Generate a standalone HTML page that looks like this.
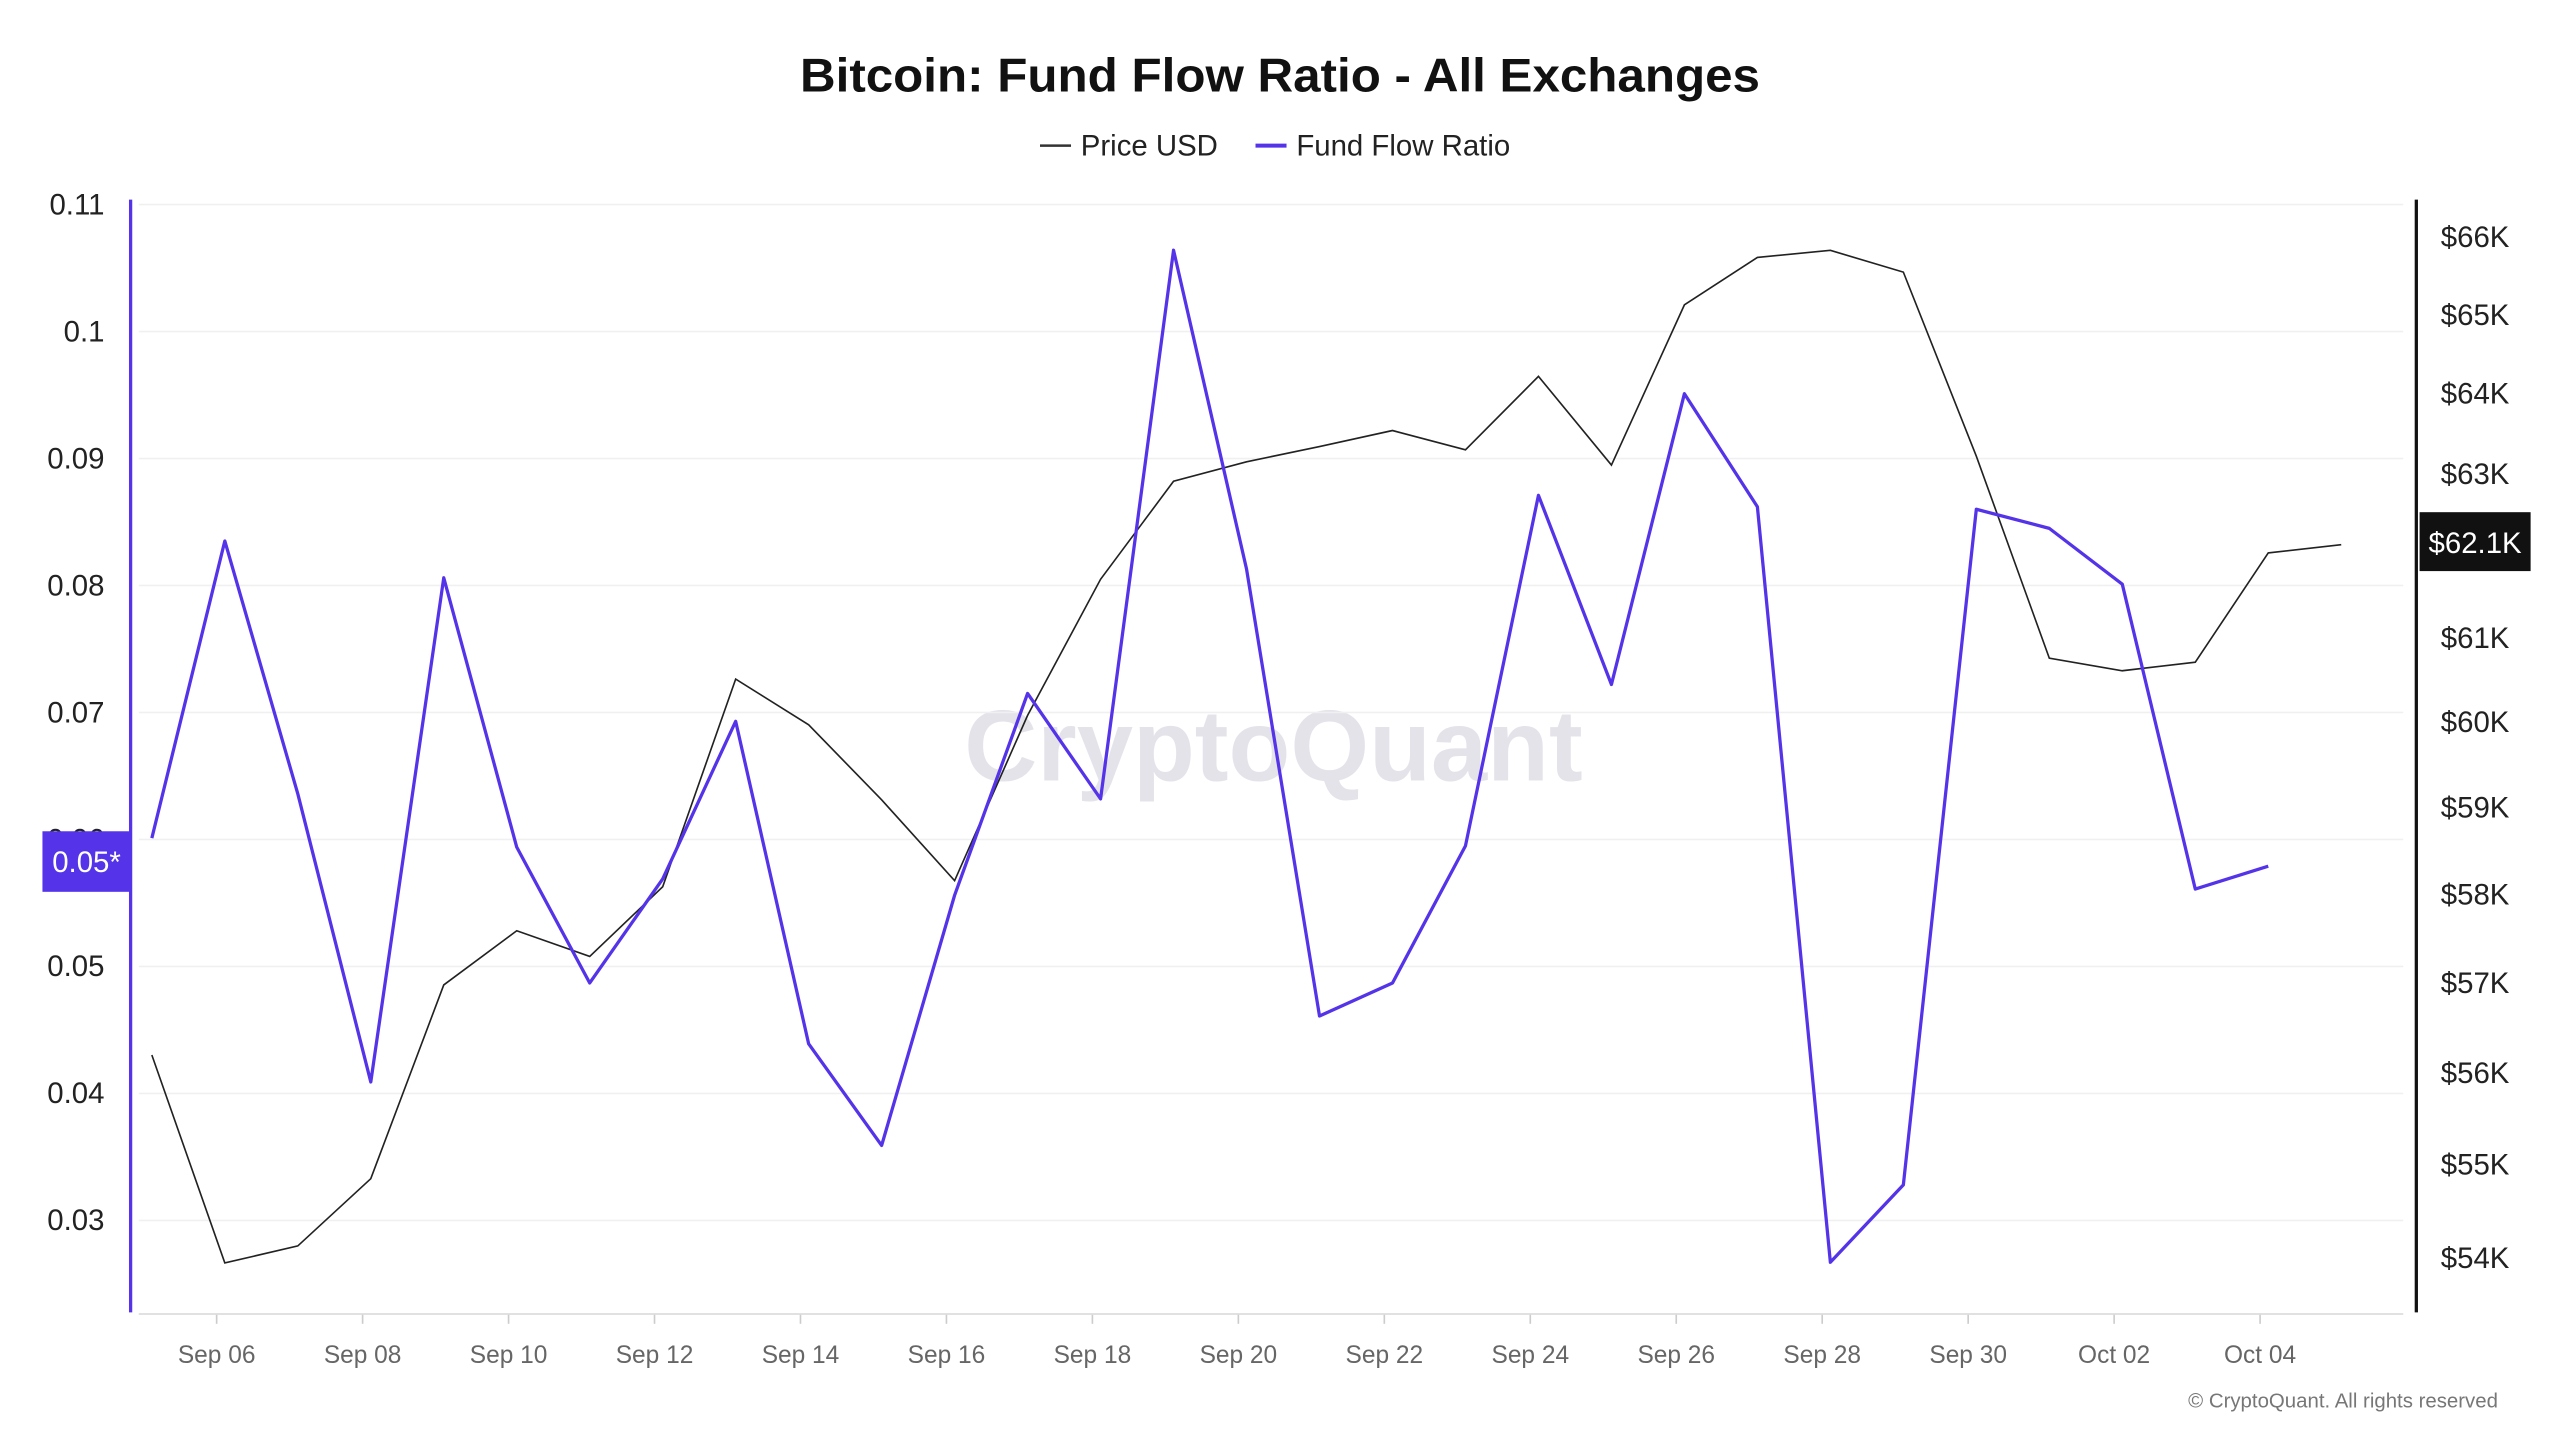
<!DOCTYPE html>
<html><head><meta charset="utf-8"><style>
html,body{margin:0;padding:0;background:#fff}
svg{display:block}
text{font-family:"Liberation Sans",sans-serif}
</style></head><body>
<svg id="chart" width="2560" height="1440" viewBox="0 0 1568 880" preserveAspectRatio="none" xmlns="http://www.w3.org/2000/svg">
<rect width="1568" height="880" fill="#fff"/>
<text x="784" y="56" text-anchor="middle" font-size="29" font-weight="bold" fill="#111" textLength="588" lengthAdjust="spacingAndGlyphs">Bitcoin: Fund Flow Ratio - All Exchanges</text>
<g>
<g><line x1="637" y1="89" x2="656" y2="89" stroke="#333" stroke-width="1.5"/><text x="662" y="95" font-size="18" fill="#222">Price USD</text></g>
<g><line x1="769" y1="89" x2="788" y2="89" stroke="#5433e8" stroke-width="2.5"/><text x="794" y="95" font-size="18" fill="#222">Fund Flow Ratio</text></g>
</g>
<text x="780" y="477" text-anchor="middle" font-size="62" font-weight="bold" fill="#e4e3ea">CryptoQuant</text>
<g id="grid"></g><g id="axes"></g><g id="series"></g><g id="labels"></g>
<text x="1530" y="860" text-anchor="end" font-size="12.5" fill="#777">© CryptoQuant. All rights reserved</text>
</svg>
<script>
const dates=["Sep 05","Sep 06","Sep 07","Sep 08","Sep 09","Sep 10","Sep 11","Sep 12","Sep 13","Sep 14","Sep 15","Sep 16","Sep 17","Sep 18","Sep 19","Sep 20","Sep 21","Sep 22","Sep 23","Sep 24","Sep 25","Sep 26","Sep 27","Sep 28","Sep 29","Sep 30","Oct 01","Oct 02","Oct 03","Oct 04","Oct 05"];
const fundFlow=[0.0601,0.0835,0.0636,0.0409,0.0806,0.0594,0.0487,0.0569,0.0693,0.0439,0.0359,0.0556,0.0715,0.0632,0.1064,0.0813,0.0461,0.0487,0.0595,0.0871,0.0722,0.0951,0.0862,0.0267,0.0328,0.0860,0.0845,0.0801,0.0561,0.0579];
const price=[56.2,53.95,54.13,54.85,56.98,57.59,57.30,58.09,60.51,59.97,59.09,58.16,60.08,61.71,62.91,63.15,63.34,63.54,63.30,64.22,63.11,65.13,65.74,65.83,65.55,63.22,60.76,60.61,60.71,62.03,62.13];
const leftTicks=[0.11,0.1,0.09,0.08,0.07,0.06,0.05,0.04,0.03];
const leftTickLabels=["0.11","0.1","0.09","0.08","0.07","0.06","0.05","0.04","0.03"];
const rightTicks=[66,65,64,63,61,60,59,58,57,56,55,54];
const xTickIdx=[1,3,5,7,9,11,13,15,17,19,21,23,25,27,29];
const lastPriceLabel="$62.1K";
const markerLabel="0.05*";

const NS="http://www.w3.org/2000/svg";
const xOf=i=>93+i*44.7;
const xTickOf=i=>88+i*44.7;
const yL=v=>125+(0.11-v)*7760;
const yR=v=>145+3109*(Math.log(66)-Math.log(v));
function mk(tag,attrs,parent,txt){const e=document.createElementNS(NS,tag);for(const k in attrs)e.setAttribute(k,attrs[k]);if(txt!==undefined)e.textContent=txt;document.getElementById(parent).appendChild(e);return e;}

leftTicks.forEach((t,i)=>{
  const g=mk('line',{x1:85,x2:1472,y1:yL(t),y2:yL(t),stroke:'#f0f0f0','stroke-width':1},'grid');
  
  
  const l=mk('text',{x:64,y:yL(t)+6,'text-anchor':'end','font-size':18,fill:'#222'},'labels',leftTickLabels[i]);
  
  
});
rightTicks.forEach(t=>{
  const l=mk('text',{x:1495,y:yR(t)+6,'font-size':18,fill:'#222'},'labels','$'+t+'K');
  
  
});
xTickIdx.forEach(i=>{
  const tk=mk('line',{x1:xTickOf(i),x2:xTickOf(i),y1:803,y2:809,stroke:'#ccc','stroke-width':1},'axes');
  
  
  const l=mk('text',{x:xTickOf(i),y:833,'text-anchor':'middle','font-size':15,fill:'#666'},'labels',dates[i]);
  
  
});
let a=mk('line',{x1:85,x2:1472,y1:803,y2:803,stroke:'#ddd','stroke-width':1},'axes');

a=mk('line',{x1:80,x2:80,y1:122,y2:802,stroke:'#5433e8','stroke-width':2},'axes');

a=mk('line',{x1:1480,x2:1480,y1:122,y2:802,stroke:'#111','stroke-width':2},'axes');


let pp=price.map((v,i)=>xOf(i).toFixed(1)+','+yR(v).toFixed(1)).join(' ');
const pl=mk('polyline',{points:pp,fill:'none',stroke:'#222','stroke-width':1},'series');


let fp=fundFlow.map((v,i)=>xOf(i).toFixed(1)+','+yL(v).toFixed(1)).join(' ');
const fl=mk('polyline',{points:fp,fill:'none',stroke:'#5433e8','stroke-width':2,'stroke-linejoin':'round'},'series');



const pb=mk('rect',{x:1482,y:313,width:68,height:36,fill:'#111'},'labels');


const pt=mk('text',{x:1516,y:338,'text-anchor':'middle','font-size':18,fill:'#fff'},'labels',lastPriceLabel);


const fb=mk('rect',{x:26,y:508,width:54,height:37,fill:'#5433e8'},'labels');


const ft=mk('text',{x:53,y:533,'text-anchor':'middle','font-size':18,fill:'#fff'},'labels',markerLabel);


</script>
</body></html>
